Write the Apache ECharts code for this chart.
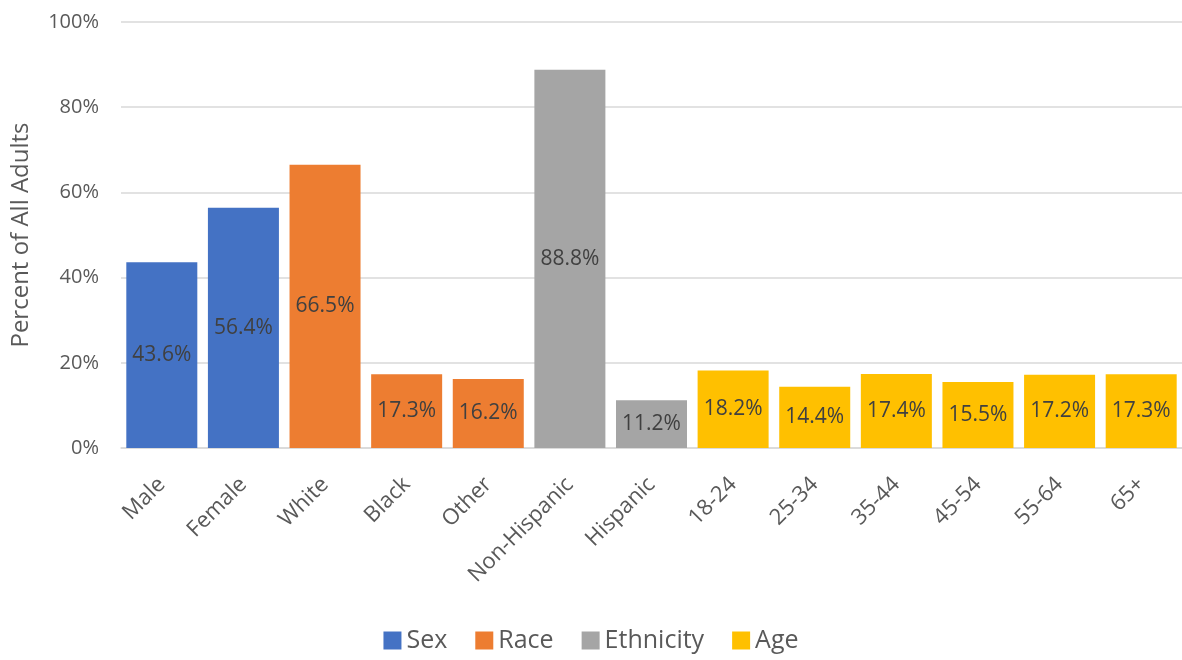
<!DOCTYPE html>
<html>
<head>
<meta charset="utf-8">
<script src="https://cdn.jsdelivr.net/npm/echarts@6/dist/echarts.min.js"></script>
<style>
  html, body { margin: 0; padding: 0; background: #fff; }
  #chart { width: 1182px; height: 660px; }
</style>
</head>
<body>
<div id="chart"></div>
<script>
var categories = ['Male', 'Female', 'White', 'Black', 'Other', 'Non-Hispanic', 'Hispanic',
    '18-24', '25-34', '35-44', '45-54', '55-64', '65+'];
var values = [43.6, 56.4, 66.5, 17.3, 16.2, 88.8, 11.2, 18.2, 14.4, 17.4, 15.5, 17.2, 17.3];
// which group each category belongs to
var groupOf = ['Sex', 'Sex', 'Race', 'Race', 'Race', 'Ethnicity', 'Ethnicity',
    'Age', 'Age', 'Age', 'Age', 'Age', 'Age'];
var groups = ['Sex', 'Race', 'Ethnicity', 'Age'];
var yTicks = [0, 20, 40, 60, 80, 100];

var palette = ['#4472C4', '#ED7D31', '#A5A5A5', '#FFC000'];

var chart = echarts.init(document.getElementById('chart'), null, { renderer: 'canvas' });

var font = '"Open Sans", "Noto Sans", sans-serif';

var series = groups.map(function (g) {
    return {
        name: g,
        type: 'bar',
        stack: 'all',
        barCategoryGap: '13%',
        data: values.map(function (v, i) { return groupOf[i] === g ? v : null; }),
        label: {
            show: true,
            position: 'inside',
            color: '#404040',
            fontSize: 21,
            fontFamily: font,
            formatter: function (p) { return p.value.toFixed(1) + '%'; }
        }
    };
});

var option = {
    color: palette,
    animation: false,
    textStyle: { fontFamily: font },
    grid: { left: 121, right: 0, top: 22, bottom: 212 },
    legend: {
        data: groups,
        bottom: 2,
        left: 'center',
        icon: 'rect',
        itemWidth: 18,
        itemHeight: 18,
        itemGap: 28,
        textStyle: { fontSize: 25, color: '#595959', fontFamily: font }
    },
    xAxis: {
        type: 'category',
        data: categories,
        axisTick: { show: false },
        axisLine: { lineStyle: { color: '#D9D9D9', width: 1.5 } },
        axisLabel: { rotate: 45, fontSize: 22, color: '#595959', fontFamily: font, margin: 33, interval: 0 }
    },
    yAxis: {
        type: 'value',
        min: yTicks[0],
        max: yTicks[yTicks.length - 1],
        interval: 20,
        name: 'Percent of All Adults',
        nameLocation: 'middle',
        nameGap: 88,
        nameTextStyle: { fontSize: 24, color: '#595959', fontFamily: font },
        axisLabel: { formatter: '{value}%', fontSize: 20, color: '#595959', fontFamily: font, margin: 22 },
        splitLine: { lineStyle: { color: '#D9D9D9', width: 1.5 } }
    },
    series: series
};

chart.setOption(option);
</script>
</body>
</html>
